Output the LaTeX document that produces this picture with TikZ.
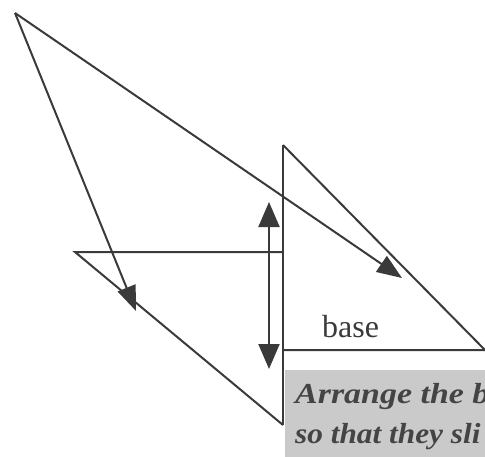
\documentclass[tikz,border=0pt]{standalone}
\usepackage{fontspec}
\setmainfont{Liberation Serif}
\usetikzlibrary{arrows.meta}
\definecolor{inkGray}{HTML}{3A3A3A}
\definecolor{boxGray}{HTML}{CACACA}
\definecolor{noteGray}{HTML}{444444}

\begin{document}
\begin{tikzpicture}[x=1pt,y=-1pt]
      \tikzstyle{edge}=[draw=inkGray,line width=2pt]
      \tikzstyle{pointer}=[edge,-{Triangle[length=25pt,width=19pt]}]
      \tikzstyle{slider}=[edge,{Triangle[length=25pt,width=21pt]}-{Triangle[length=25pt,width=21pt]}]
      \tikzstyle{note}=[inner sep=0pt,anchor=base west,text=noteGray,
                        font=\fontsize{29}{34}\selectfont\bfseries\itshape]

      \useasboundingbox (0,0) rectangle (485,456);

      \coordinate (src) at (15,13);
      \coordinate (lTip) at (75,252);
      \coordinate (lCorner) at (283,252);
      \coordinate (lBottom) at (283,425);
      \coordinate (rTop) at (283,145);
      \coordinate (rCorner) at (283,350);
      \coordinate (rEnd) at (485,350);
      \coordinate (lHit) at (136,311);
      \coordinate (rHit) at (402,278);
      \coordinate (slideTop) at (269,202);
      \coordinate (slideBot) at (269,369);

      \fill[boxGray] (285,370) rectangle (490,460);
      \begin{scope}
        \clip (285,370) rectangle (485,456);
        \node[note] (line1) at (295,403) {\scalebox{1.17}[1]{Arrange the b}};
        \node[note] (line2) at (295,443) {\scalebox{1.08}[1]{so that they sli}};
      \end{scope}

      \draw[edge,line join=miter] (lCorner) -- (lTip) -- (lBottom);
      \draw[edge,line join=miter] (rCorner) -- (rEnd) -- (rTop);
      \draw[edge] (rTop) -- (lBottom);

      \node[inner sep=0pt,anchor=base west,text=inkGray,font=\fontsize{32}{38}\selectfont] (base) at (322,337) {base};

      \draw[pointer] (src) -- (lHit);
      \draw[pointer] (src) -- (rHit);
      \draw[slider] (slideTop) -- (slideBot);
    \end{tikzpicture}
\end{document}
